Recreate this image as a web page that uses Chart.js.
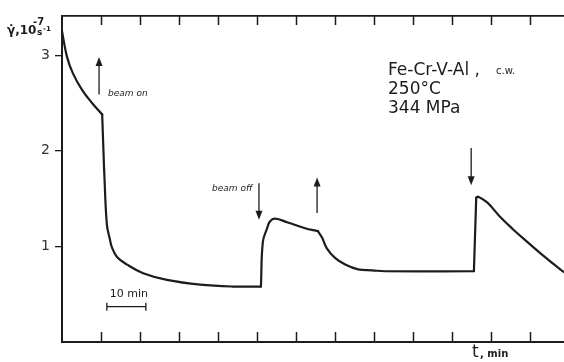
<!DOCTYPE html>
<html>
<head>
<meta charset="utf-8">
<script src="https://cdn.jsdelivr.net/npm/chart.js@4"></script>
<style>
  body { margin: 0; background: #fff; }
  #wrap { width: 564px; height: 362px; position: relative; }
</style>
</head>
<body>
<div id="wrap"><canvas id="creep"></canvas></div>
<script>
// creep rate curve (t in min, rate in 1e-7 s^-1)
const times = [0, 1.3, 2.8, 5.1, 7.7, 10.3, 10.8, 11.5, 12.3, 12.8, 14.1, 16.7, 20.8, 26.9, 35.4, 43.8,
  51.0, 51.5, 52.6, 53.3, 54.6, 57.9, 62.3, 65.6, 66.7, 67.9, 70.0, 72.6, 75.9, 79.5, 82.8,
  105.6, 106.2, 106.7, 109.0, 112.3, 115.6, 119.2, 122.6, 125.9, 128.7];
const rates = [3.25, 2.98, 2.81, 2.64, 2.50, 2.38, 1.80, 1.23, 1.07, 0.99, 0.89, 0.81, 0.72, 0.65, 0.60, 0.58,
  0.58, 1.05, 1.19, 1.26, 1.29, 1.25, 1.19, 1.16, 1.09, 0.98, 0.88, 0.81, 0.76, 0.75, 0.74,
  0.74, 1.51, 1.52, 1.46, 1.31, 1.18, 1.05, 0.93, 0.82, 0.73];

// index of the sharp corners (beam switched on/off); curve is smooth between them
const corners = [0, 5, 6, 16, 23, 31, 32, 40];

const yTicks = [1, 2, 3];
const xTickStep = 10;

// beam on / off arrows
const arrowTimes = [9.5, 50.5, 65.4, 104.9];
const arrowFrom = [2.59, 1.66, 1.35, 2.03];
const arrowTo = [2.98, 1.28, 1.72, 1.64];

const ink = '#1c1c1c';

const sketchPlugin = {
  id: 'sketch',
  afterDatasetsDraw(chart) {
    const ctx = chart.ctx;
    const xs = chart.scales.x, ys = chart.scales.y;
    const area = chart.chartArea;
    ctx.save();
    ctx.strokeStyle = ink;
    ctx.fillStyle = ink;
    ctx.lineWidth = 1.5;

    // inward tick marks, top and bottom
    for (let t = xTickStep; t < xs.max; t += xTickStep) {
      const px = Math.round(xs.getPixelForValue(t)) + 0.5;
      ctx.beginPath();
      ctx.moveTo(px, area.bottom);
      ctx.lineTo(px, area.bottom - 10);
      ctx.moveTo(px, area.top);
      ctx.lineTo(px, area.top + 9);
      ctx.stroke();
    }

    // arrows
    ctx.lineWidth = 1.3;
    arrowTimes.forEach((t, i) => {
      const px = xs.getPixelForValue(t);
      const y0 = ys.getPixelForValue(arrowFrom[i]);
      const y1 = ys.getPixelForValue(arrowTo[i]);
      const dir = y1 < y0 ? -1 : 1;
      ctx.beginPath();
      ctx.moveTo(px, y0);
      ctx.lineTo(px, y1 - dir * 7);
      ctx.stroke();
      ctx.beginPath();
      ctx.moveTo(px, y1);
      ctx.lineTo(px - 3.5, y1 - dir * 9);
      ctx.lineTo(px + 3.5, y1 - dir * 9);
      ctx.closePath();
      ctx.fill();
    });

    // 10 min scale bar
    const b0 = xs.getPixelForValue(11.5), b1 = xs.getPixelForValue(21.5);
    const by = ys.getPixelForValue(0.37);
    ctx.lineWidth = 1.3;
    ctx.beginPath();
    ctx.moveTo(b0, by); ctx.lineTo(b1, by);
    ctx.moveTo(b0, by - 4); ctx.lineTo(b0, by + 4);
    ctx.moveTo(b1, by - 4); ctx.lineTo(b1, by + 4);
    ctx.stroke();

    // texts
    ctx.textBaseline = 'alphabetic';
    ctx.font = '11px "DejaVu Sans"';
    ctx.fillText('10 min', b0 + 3, by - 10);

    ctx.font = 'italic 9px "DejaVu Sans"';
    ctx.fillText('beam on', 108, 96);
    ctx.fillText('beam off', 212, 191);

    ctx.font = '17px "DejaVu Sans"';
    ctx.fillText('Fe-Cr-V-Al ,', 388, 75);
    ctx.fillText('250°C', 388, 94);
    ctx.fillText('344 MPa', 388, 113);
    ctx.font = '10px "DejaVu Sans"';
    ctx.fillText('c.w.', 496, 74);

    ctx.font = 'bold 12px "DejaVu Sans"';
    ctx.fillText('γ̇,10', 7, 34);
    ctx.font = 'bold 10px "DejaVu Sans"';
    ctx.fillText('-7', 33, 25);
    ctx.font = 'bold 9px "DejaVu Sans"';
    ctx.fillText('s', 37, 35);
    ctx.font = 'bold 7px "DejaVu Sans"';
    ctx.fillText('-1', 43, 31);

    ctx.font = '17px "DejaVu Sans"';
    ctx.fillText('t', 472, 357);
    ctx.font = 'bold 10px "DejaVu Sans"';
    ctx.fillText(', min', 480, 357);
    ctx.restore();
  }
};

// one dataset per smooth piece; straight pieces (two points) get no tension
const pieces = [];
for (let k = 0; k < corners.length - 1; k++) {
  const a = corners[k], b = corners[k + 1];
  const pts = [];
  for (let i = a; i <= b; i++) pts.push({ x: times[i], y: rates[i] });
  pieces.push({
    data: pts,
    borderColor: ink,
    borderWidth: 2.2,
    borderCapStyle: 'round',
    pointRadius: 0,
    tension: b - a > 2 ? 0.4 : 0,
    fill: false
  });
}

new Chart(document.getElementById('creep'), {
  type: 'line',
  data: { datasets: pieces },
  options: {
    responsive: true,
    maintainAspectRatio: false,
    animation: false,
    layout: { padding: 0 },
    plugins: { legend: { display: false }, tooltip: { enabled: false } },
    scales: {
      x: {
        type: 'linear',
        min: 0,
        max: 128.7,
        ticks: { display: false },
        grid: { display: false },
        border: { display: true, color: ink, width: 2 },
        afterFit(scale) { scale.height = 20; }
      },
      x2: {
        type: 'linear',
        position: 'top',
        min: 0,
        max: 128.7,
        ticks: { display: false },
        grid: { display: false },
        border: { display: true, color: ink, width: 1.8 },
        afterFit(scale) { scale.height = 16; }
      },
      y: {
        min: 0,
        max: 3.41,
        afterBuildTicks(scale) { scale.ticks = yTicks.map(v => ({ value: v })); },
        ticks: {
          color: '#333',
          font: { family: 'DejaVu Sans', size: 14 },
          padding: 5
        },
        grid: { drawOnChartArea: false, tickLength: 7, color: ink, lineWidth: 1.3 },
        border: { display: true, color: ink, width: 2 },
        afterFit(scale) { scale.width = 62; }
      }
    }
  },
  plugins: [sketchPlugin]
});
</script>
</body>
</html>
